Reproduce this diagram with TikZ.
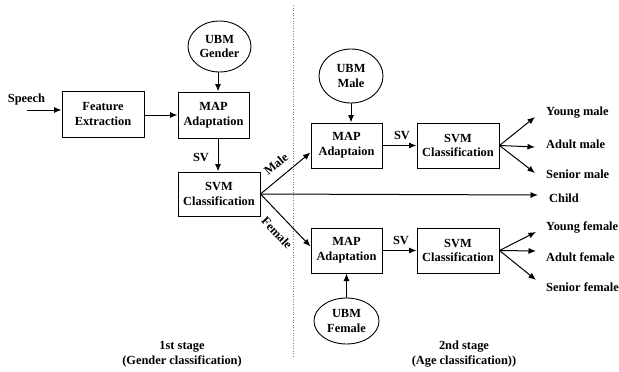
\documentclass[tikz,border=0pt]{standalone}
\usepackage{fontspec}
\setmainfont{Liberation Serif}
\usetikzlibrary{arrows.meta,shapes.geometric}
\begin{document}
\begin{tikzpicture}[x=1pt,y=-1pt,
  every node/.style={font=\fontsize{12.4}{14.8}\selectfont\bfseries},
  blk/.style={draw,line width=1pt,rectangle,align=center,inner sep=0pt,minimum height=45pt},
  ubm/.style={draw,line width=0.9pt,ellipse,align=center,inner sep=0pt},
  lbl/.style={anchor=west,inner sep=0pt},
  arr/.style={line width=1pt,-{Latex[length=7.5pt,width=6pt]}}]
\useasboundingbox (0,0) rectangle (619,372);
% first stage
\node[blk,minimum width=82pt,minimum height=46pt] (fe) at (103,114) {Feature\\Extraction};
\node[blk,minimum width=71pt,minimum height=46pt] (map1) at (213.5,115) {MAP\\Adaptation};
\node[ubm,minimum width=63pt,minimum height=51pt] (ubmg) at (219.5,46.5) {UBM\\Gender};
\node[blk,minimum width=82pt,minimum height=44pt] (svm1) at (219,194) {SVM\\Classification};
\node (speech) at (26.5,100) {Speech};
\coordinate (spst) at (27,110);
\node (sv1) at (201,157) {SV};
% second stage male
\node[ubm,minimum width=64pt,minimum height=54pt] (ubmm) at (351,76) {UBM\\Male};
\node[blk,minimum width=71pt] (map2) at (346.5,145.5) {MAP\\Adaptaion};
\node[blk,minimum width=82pt] (svm2) at (458,145.5) {SVM\\Classification};
\node (sv2) at (402,135) {SV};
% second stage female
\node[blk,minimum width=71pt] (map3) at (346.5,250.5) {MAP\\Adaptation};
\node[blk,minimum width=82pt] (svm3) at (458,250.5) {SVM\\Classification};
\node[ubm,minimum width=65pt,minimum height=46pt] (ubmf) at (346.5,321) {UBM\\Female};
\node (sv3) at (401,240) {SV};
% outputs
\node[lbl] (ym) at (546,113) {Young male};
\node[lbl] (am) at (546,144) {Adult male};
\node[lbl] (sm) at (546,174) {Senior male};
\node[lbl] (ch) at (549,198) {Child};
\node[lbl] (yf) at (546,228) {Young female};
\node[lbl] (af) at (546,257) {Adult female};
\node[lbl] (sf) at (546,287) {Senior female};
\coordinate (eym) at (535,117);
\coordinate (eam) at (535,147);
\coordinate (esm) at (535,173);
\coordinate (ech) at (538,195);
\coordinate (eyf) at (536,232);
\coordinate (eaf) at (536,251);
\coordinate (esf) at (536,280);
% divider
\coordinate (dtop) at (293,5);
\coordinate (dbot) at (293,357);
\draw[gray,line width=0.6pt,dotted] (dtop) -- (dbot);
% stage captions
\node[align=center] (st1) at (182,354) {1st stage\\(Gender classification)};
\node[align=center] (st2) at (464,354) {2nd stage\\(Age classification))};
% gender labels
\node[rotate=40,inner sep=0pt] (ml) at (276,164) {Male};
\node[rotate=-47,inner sep=0pt] (fl) at (277,233) {Female};
% connectors
\draw[arr] (spst) -- (spst -| fe.west);
\draw[arr] (fe.east |- map1.west) -- (map1.west);
\draw[arr] (ubmg.south -| 218,0) -- (218,0 |- map1.north);
\draw[arr] (map1.south -| 218,0) -- (218,0 |- svm1.north);
\draw[arr] (svm1.east) -- ([yshift=-7pt]map2.west);
\draw[arr] (svm1.east) -- ([yshift=4pt]map3.west);
\draw[arr] (svm1.east) -- (ech);
\draw[arr] (ubmm.south) -- (ubmm.south |- map2.north);
\draw[arr] (ubmf.north) -- (ubmf.north |- map3.south);
\draw[arr] (map2.east) -- (svm2.west);
\draw[arr] (map3.east) -- (svm3.west);
\draw[arr] (svm2.east) -- (eym);
\draw[arr] (svm2.east) -- (eam);
\draw[arr] (svm2.east) -- (esm);
\draw[arr] (svm3.east) -- (eyf);
\draw[arr] (svm3.east) -- (eaf);
\draw[arr] (svm3.east) -- (esf);
\end{tikzpicture}
\end{document}
